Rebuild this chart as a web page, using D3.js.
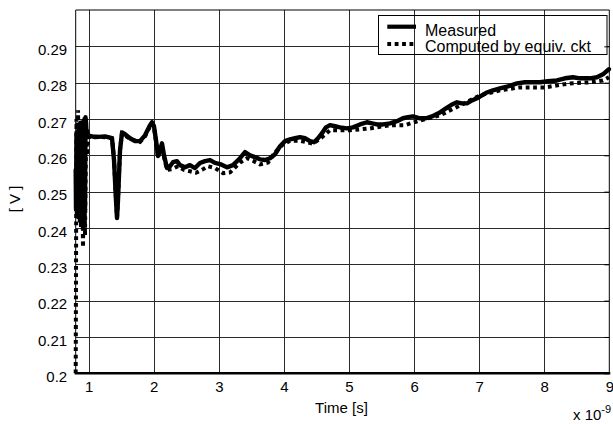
<!DOCTYPE html>
<html>
<head>
<meta charset="utf-8">
<script src="https://cdn.jsdelivr.net/npm/d3@7"></script>
<style>
  html, body { margin: 0; padding: 0; background: #fff; }
  svg { display: block; font-family: "Liberation Sans", Arial, Helvetica, sans-serif; }
</style>
</head>
<body>
<svg id="chart" width="613" height="424"></svg>
<script>
// ---- data (time in units of 1e-9 s, voltage in V) ----
const measuredTime = [0.800,0.805,0.812,0.820,0.828,0.836,0.843,0.851,0.858,0.866,0.874,0.882,0.889,0.897,0.905,0.912,0.920,0.928,0.935,0.943,0.951,0.959,0.966,0.974,0.989,1.097,1.250,1.358,1.389,1.419,1.435,1.450,1.481,1.512,1.558,1.635,1.711,1.788,1.865,1.942,1.973,2.003,2.034,2.065,2.096,2.126,2.157,2.203,2.249,2.295,2.356,2.403,2.480,2.556,2.633,2.710,2.787,2.864,2.941,3.018,3.125,3.217,3.325,3.402,3.478,3.555,3.632,3.709,3.786,3.863,3.940,4.017,4.093,4.170,4.247,4.324,4.401,4.462,4.524,4.585,4.646,4.708,4.785,4.861,4.969,5.061,5.169,5.276,5.353,5.430,5.522,5.630,5.737,5.829,5.906,5.983,6.090,6.182,6.275,6.398,6.490,6.582,6.659,6.736,6.813,6.890,6.967,7.043,7.120,7.212,7.320,7.443,7.581,7.704,7.827,7.934,8.057,8.195,8.318,8.441,8.549,8.702,8.810,8.902,8.994];
const measuredVolt = [0.2560,0.2450,0.2660,0.2440,0.2650,0.2430,0.2680,0.2440,0.2670,0.2420,0.2690,0.2415,0.2680,0.2410,0.2690,0.2405,0.2695,0.2410,0.2700,0.2450,0.2705,0.2690,0.2660,0.2668,0.2655,0.2650,0.2652,0.2647,0.2586,0.2477,0.2427,0.2477,0.2614,0.2663,0.2658,0.2647,0.2639,0.2639,0.2655,0.2683,0.2691,0.2680,0.2641,0.2598,0.2614,0.2633,0.2600,0.2565,0.2570,0.2581,0.2584,0.2573,0.2567,0.2573,0.2565,0.2579,0.2584,0.2587,0.2579,0.2576,0.2567,0.2573,0.2592,0.2609,0.2600,0.2595,0.2589,0.2587,0.2592,0.2603,0.2625,0.2639,0.2644,0.2647,0.2650,0.2647,0.2639,0.2636,0.2647,0.2661,0.2677,0.2683,0.2680,0.2677,0.2674,0.2677,0.2685,0.2691,0.2688,0.2685,0.2685,0.2688,0.2694,0.2702,0.2705,0.2707,0.2702,0.2702,0.2707,0.2718,0.2729,0.2740,0.2746,0.2743,0.2743,0.2751,0.2757,0.2765,0.2773,0.2779,0.2784,0.2790,0.2798,0.2801,0.2801,0.2801,0.2804,0.2806,0.2812,0.2815,0.2812,0.2812,0.2815,0.2823,0.2837];

const computedTime = [0.800,0.812,0.828,0.836,0.851,0.866,0.882,0.897,0.912,0.928,0.943,0.959,0.974,0.989,1.097,1.250,1.358,1.389,1.419,1.435,1.450,1.481,1.512,1.635,1.788,1.865,1.942,1.973,2.003,2.034,2.065,2.096,2.126,2.157,2.203,2.280,2.372,2.464,2.556,2.649,2.741,2.833,2.941,3.064,3.172,3.325,3.432,3.524,3.632,3.755,3.863,3.970,4.093,4.247,4.447,4.585,4.708,5.015,5.322,5.630,5.860,6.090,6.398,6.705,7.012,7.320,7.627,8.011,8.395,8.702,8.902,8.994];
const computedVolt = [0.2000,0.2700,0.2500,0.2724,0.2450,0.2690,0.2400,0.2660,0.2347,0.2620,0.2380,0.2660,0.2600,0.2650,0.2652,0.2650,0.2647,0.2590,0.2480,0.2430,0.2480,0.2615,0.2660,0.2645,0.2637,0.2652,0.2680,0.2688,0.2678,0.2638,0.2595,0.2608,0.2628,0.2595,0.2560,0.2562,0.2570,0.2560,0.2556,0.2552,0.2560,0.2570,0.2565,0.2551,0.2553,0.2580,0.2592,0.2585,0.2575,0.2580,0.2608,0.2628,0.2640,0.2640,0.2632,0.2650,0.2669,0.2669,0.2674,0.2683,0.2683,0.2696,0.2710,0.2737,0.2765,0.2779,0.2787,0.2787,0.2798,0.2801,0.2806,0.2815];

const xTicks = [1, 2, 3, 4, 5, 6, 7, 8, 9];
const yTicks = [0.2, 0.21, 0.22, 0.23, 0.24, 0.25, 0.26, 0.27, 0.28, 0.29];
const seriesNames = ["Measured", "Computed by equiv. ckt"];
const xLabel = "Time [s]";
const yLabel = "[ V ]";

// ---- layout ----
const svg = d3.select("#chart");
const x = d3.scaleLinear().domain([0.8, 9]).range([75.7, 609.3]);
const y = d3.scaleLinear().domain([0.2, 0.3]).range([373.3, 10]);
const [L, R] = x.range();
const [B, T] = y.range();
const FS = 15;

const measured = measuredTime.map((t, i) => [t, measuredVolt[i]]);
const computed = computedTime.map((t, i) => [t, computedVolt[i]]);

// horizontal gridlines
svg.append("g")
  .attr("transform", `translate(${L},0)`)
  .call(d3.axisLeft(y).tickValues(yTicks.slice(1)).tickSize(-(R - L)).tickFormat(""))
  .call(g => g.select(".domain").remove())
  .call(g => g.selectAll("line").attr("stroke", "#2a2a2a").attr("stroke-width", 1).attr("shape-rendering", "crispEdges"));

// legend box geometry
const lg = { x0: 378.5, y0: 15.5, x1: 607, y1: 54.5 };
svg.append("rect")
  .attr("x", lg.x0).attr("y", lg.y0)
  .attr("width", lg.x1 - lg.x0).attr("height", lg.y1 - lg.y0)
  .attr("fill", "#fff");

// vertical gridlines
svg.append("g")
  .attr("transform", `translate(0,${B})`)
  .call(d3.axisBottom(x).tickValues(xTicks.slice(0, -1)).tickSize(-(B - T)).tickFormat(""))
  .call(g => g.select(".domain").remove())
  .call(g => g.selectAll("line").attr("stroke", "#2a2a2a").attr("stroke-width", 1).attr("shape-rendering", "crispEdges"));

// curves
const line = d3.line().x(d => x(d[0])).y(d => y(d[1])).curve(d3.curveLinear);
svg.append("path").datum(computed)
  .attr("d", line).attr("fill", "none").attr("stroke", "#000")
  .attr("stroke-width", 4).attr("stroke-dasharray", "3.8,3.6");
svg.append("path").datum(measured)
  .attr("d", line).attr("fill", "none").attr("stroke", "#000")
  .attr("stroke-width", 4.4).attr("stroke-linejoin", "round").attr("stroke-linecap", "round");

// frame
svg.append("path")
  .attr("d", `M${L},${B}V${T}H${R}V${B}`)
  .attr("fill", "none").attr("stroke", "#000").attr("stroke-width", 1);
svg.append("line")
  .attr("x1", L - 1).attr("x2", R + 1).attr("y1", B).attr("y2", B)
  .attr("stroke", "#000").attr("stroke-width", 2.5);

// right-side inner ticks
svg.append("g")
  .attr("transform", `translate(${R},0)`)
  .call(d3.axisRight(y).tickValues(yTicks).tickSize(-5).tickFormat(""))
  .call(g => g.select(".domain").remove())
  .call(g => g.selectAll("line").attr("stroke", "#000"));

// y tick labels
svg.append("g")
  .attr("transform", `translate(${L},0)`)
  .call(d3.axisLeft(y).tickValues(yTicks).tickSize(0).tickPadding(8.5).tickFormat(d3.format("~g")))
  .call(g => g.select(".domain").remove())
  .call(g => g.selectAll("text").attr("font-size", FS).attr("font-family", null).attr("fill", "#000").attr("dy", "0.55em"));

// x tick labels
svg.append("g")
  .attr("transform", `translate(0,${B})`)
  .call(d3.axisBottom(x).tickValues(xTicks).tickSize(0).tickPadding(8.5).tickFormat(d3.format("d")))
  .call(g => g.select(".domain").remove())
  .call(g => g.selectAll("text").attr("font-size", FS).attr("font-family", null).attr("fill", "#000"));

// axis titles
svg.append("text")
  .attr("x", (L + R) / 2 - 1).attr("y", 412.5)
  .attr("text-anchor", "middle").attr("font-size", FS)
  .text(xLabel);
svg.append("text")
  .attr("transform", "translate(19.5,199) rotate(-90)")
  .attr("text-anchor", "middle").attr("font-size", FS)
  .text(yLabel);

// exponent
const ex = svg.append("text").attr("x", 573).attr("y", 420).attr("font-size", FS);
ex.append("tspan").text("x 10");
ex.append("tspan").attr("font-size", 11).attr("dy", -7).text("-9");

// legend
svg.append("rect")
  .attr("x", lg.x0).attr("y", lg.y0)
  .attr("width", lg.x1 - lg.x0).attr("height", lg.y1 - lg.y0)
  .attr("fill", "none").attr("stroke", "#000").attr("stroke-width", 1);
const legendRows = [
  { name: seriesNames[0], ly: 26.7, ty: 36, dash: null },
  { name: seriesNames[1], ly: 44, ty: 52, dash: "3.8,3.6" }
];
legendRows.forEach(r => {
  svg.append("line")
    .attr("x1", 387.3).attr("x2", 416).attr("y1", r.ly).attr("y2", r.ly)
    .attr("stroke", "#000").attr("stroke-width", r.dash ? 4 : 4.2)
    .attr("stroke-dasharray", r.dash);
  svg.append("text")
    .attr("x", 425).attr("y", r.ty).attr("font-size", 16)
    .text(r.name);
});
</script>
</body>
</html>
